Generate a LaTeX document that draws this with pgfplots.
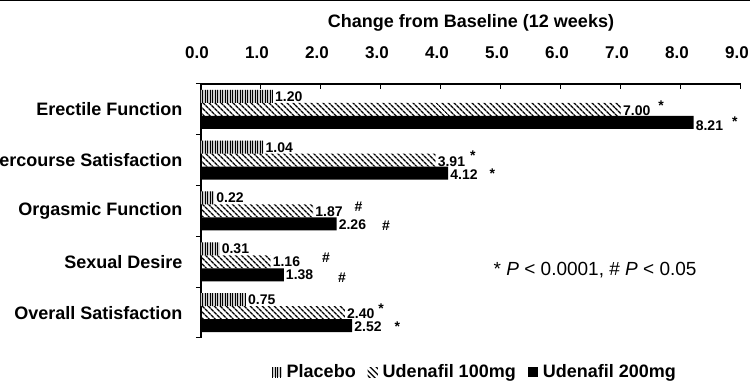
\documentclass[border=0pt]{standalone}
\usepackage{pgfplots}
\pgfplotsset{compat=1.18}
\usepackage{fontspec}
\setmainfont{Liberation Sans}
\usetikzlibrary{patterns.meta}
\newcommand\st[2]{\hspace{#1}\raisebox{#2}{*}}
\newcommand\hs[2]{\hspace{#1}\raisebox{#2}{\#}}
\begin{document}
\begin{tikzpicture}[font=\fontsize{18}{21}\selectfont\bfseries]
\begin{axis}[
  at={(0,0)}, anchor=south west,
  scale only axis, width=540pt, height=254pt,
  xmin=0, xmax=9, ymin=-0.5, ymax=4.5,
  axis x line*=top, axis y line*=left,
  axis line style={line width=1.2pt},
  xtick={0,...,9},
  xticklabel={\pgfmathprintnumber[assume math mode=true,fixed,fixed zerofill,precision=1]{\tick}},
  xticklabel style={yshift=22pt, xshift=-4pt, font=\fontsize{17}{20}\selectfont\bfseries},
  tick align=inside, major tick length=5pt,
  xtick style={line width=1pt, black},
  xlabel={Change from Baseline (12 weeks)},
  xlabel style={yshift=8pt},
  ytick={0,...,4},
  yticklabels={Overall Satisfaction, Sexual Desire, Orgasmic Function, Intercourse Satisfaction, Erectile Function},
  major y tick style={draw=none},
  minor ytick={-0.5,0.5,...,4.5},
  minor tick length=5pt,
  minor y tick style={line width=1pt, black},
  yticklabel style={xshift=-10pt},
  xbar, bar width=13pt,
  nodes near coords={\pgfplotspointmeta},
  point meta=explicit symbolic,
  every node near coord/.append style={anchor=west, inner xsep=2pt, inner ysep=0pt, font=\fontsize{14}{16}\selectfont\bfseries},
  legend style={draw=none, fill=none, legend columns=3, at={(axis description cs:0.507,-0.134)}, anchor=center,
    font=\fontsize{18}{21}\selectfont\bfseries,
    /tikz/every odd column/.append style={column sep=3pt},
    /tikz/every even column/.append style={column sep=10pt},
    inner sep=0pt},
  legend image code/.code={\fill[#1] (0pt,-5pt) rectangle (10pt,5pt);},
  clip=false,
]
\addplot[draw=none, fill=gray!40, postaction={pattern={Lines[angle=90,distance=2.5pt,line width=1pt]}, pattern color=black}, bar shift=13pt]
 coordinates {(1.20,4) [1.20] (1.04,3) [1.04] (0.22,2) [0.22] (0.31,1) [0.31] (0.75,0) [0.75]};
\addplot[draw=none, pattern={Lines[angle=-45,distance=4pt,line width=1.5pt]}, pattern color=black, bar shift=0pt,
  every node near coord/.append style={yshift=1.5pt}]
 coordinates {(7.00,4) [7.00\st{8pt}{5pt}] (3.91,3) [3.91\st{5pt}{6pt}] (1.87,2) [1.87\hs{12pt}{5pt}] (1.16,1) [1.16\hs{22pt}{4pt}] (2.40,0) [2.40\st{4pt}{5pt}]};
\addplot[draw=none, fill=black, bar shift=-13pt,
  every node near coord/.append style={yshift=-1pt}]
 coordinates {(8.21,4) [8.21\st{9pt}{4pt}] (4.12,3) [4.12\st{12pt}{1pt}] (2.26,2) [2.26\hs{16pt}{-1pt}] (1.38,1) [1.38\hs{25pt}{-3pt}] (2.52,0) [2.52\st{13pt}{0pt}]};
\legend{Placebo, Udenafil 100mg, Udenafil 200mg}
\node[anchor=west, font=\fontsize{19}{22}\selectfont\mdseries] at (axis cs:4.82,0.83) {* \textit{P} < 0.0001, \# \textit{P} < 0.05};
\end{axis}
\draw[line width=3pt] (-201pt,338pt) -- (549pt,338pt);
\pgfresetboundingbox
\useasboundingbox (-201pt,-49pt) rectangle (549pt,338pt);
\end{tikzpicture}
\end{document}
